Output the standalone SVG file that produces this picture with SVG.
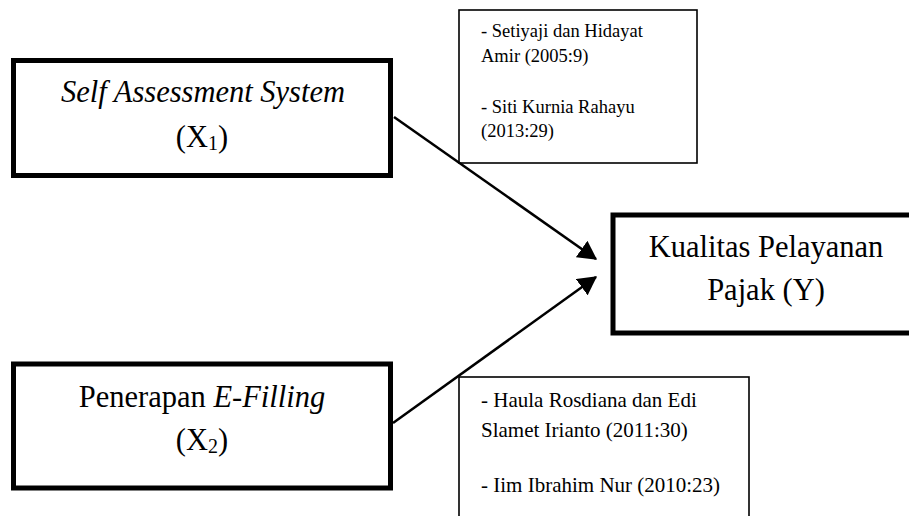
<svg xmlns="http://www.w3.org/2000/svg" width="909" height="516" viewBox="0 0 909 516">
<style>
.main{fill:#fff;stroke:#000;stroke-width:5}
.ref{fill:#fff;stroke:#000;stroke-width:1.6}
.t{font-family:'Liberation Serif',serif;fill:#000}
.big{font-size:30.5px}
.small{font-size:18.5px}
.mid{font-size:21px}
.conn{stroke:#000;stroke-width:2.5;fill:none}
</style>
<defs>
<marker id="ah" markerWidth="8" markerHeight="8" refX="7" refY="4" orient="auto" markerUnits="strokeWidth">
<path d="M0,0 L7.5,4 L0,8 z" fill="#000"/>
</marker>
</defs>
<rect width="909" height="516" fill="#fff"/>
<g id="ref1">
<rect class="ref" x="459" y="10" width="238" height="153"/>
<text class="t small" x="481" y="37">- Setiyaji dan Hidayat</text>
<text class="t small" x="481" y="62">Amir (2005:9)</text>
<text class="t small" x="481" y="113">- Siti Kurnia Rahayu</text>
<text class="t small" x="481" y="137">(2013:29)</text>
</g>
<g id="ref2">
<rect class="ref" x="459" y="377" width="290" height="150"/>
<text class="t mid" x="481" y="407">- Haula Rosdiana dan Edi</text>
<text class="t mid" x="481" y="437">Slamet Irianto (2011:30)</text>
<text class="t mid" x="481" y="492">- Iim Ibrahim Nur (2010:23)</text>
</g>
<g id="connectors">
<line class="conn" x1="394" y1="117" x2="596" y2="259" marker-end="url(#ah)"/>
<line class="conn" x1="393" y1="423" x2="596" y2="277" marker-end="url(#ah)"/>
</g>
<g id="x1">
<rect class="main" x="13.5" y="60.5" width="377" height="115"/>
<text class="t big" x="203" y="102" text-anchor="middle" font-style="italic">Self Assessment System</text>
<text class="t big" x="202" y="147" text-anchor="middle">(X<tspan font-size="20" dy="3">1</tspan><tspan dy="-3">)</tspan></text>
</g>
<g id="x2">
<rect class="main" x="13.5" y="364" width="377" height="124"/>
<text class="t big" x="202" y="407" text-anchor="middle">Penerapan <tspan font-style="italic">E-Filling</tspan></text>
<text class="t big" x="202" y="450" text-anchor="middle">(X<tspan font-size="20" dy="3">2</tspan><tspan dy="-3">)</tspan></text>
</g>
<g id="y">
<rect class="main" x="613" y="215" width="310" height="118"/>
<text class="t big" x="766" y="257" text-anchor="middle" font-size="31.5">Kualitas Pelayanan</text>
<text class="t big" x="766" y="300" text-anchor="middle" font-size="31.5">Pajak (Y)</text>
</g>
</svg>
